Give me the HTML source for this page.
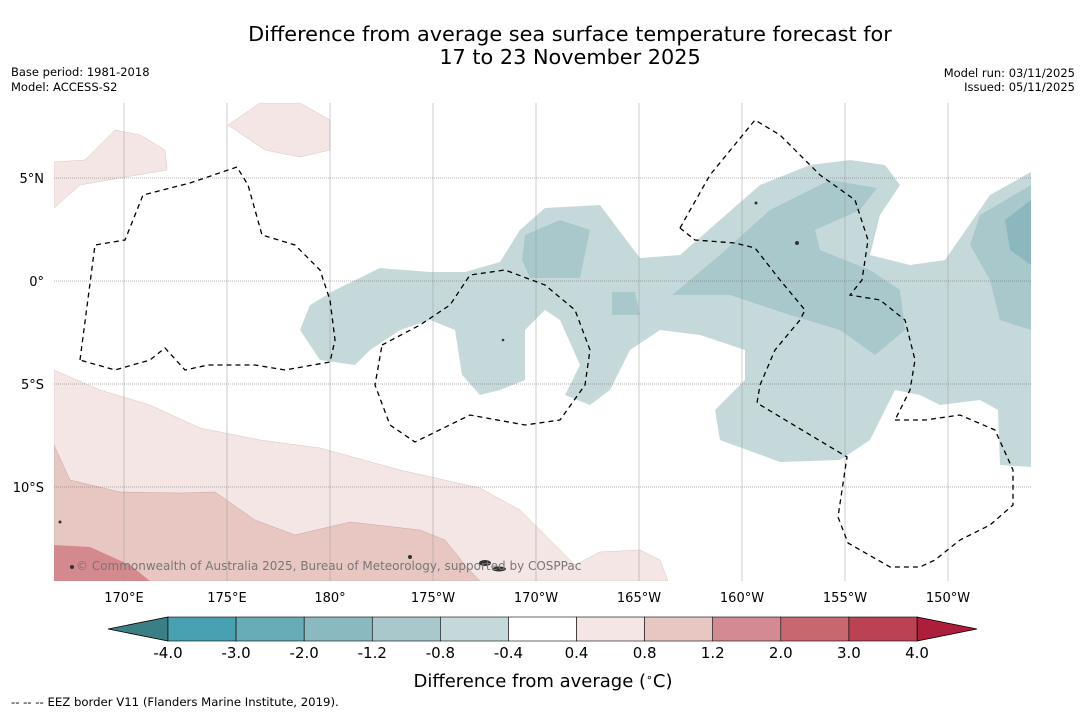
<!DOCTYPE html>
<html><head><meta charset="utf-8"><style>
body{margin:0;background:#fff;font-family:"DejaVu Sans","Liberation Sans",sans-serif;}
svg text{font-family:"DejaVu Sans","Liberation Sans",sans-serif;}
</style></head><body>
<svg id="chart" width="1085" height="713" viewBox="0 0 1085 713" xmlns="http://www.w3.org/2000/svg">
<rect width="1085" height="713" fill="#fff"/>
<text x="570" y="41" font-size="20.8" text-anchor="middle" fill="#000">Difference from average sea surface temperature forecast for</text>
<text x="570" y="64" font-size="20.8" text-anchor="middle" fill="#000">17 to 23 November 2025</text>
<text x="11" y="76" font-size="11.5">Base period: 1981-2018</text>
<text x="11" y="91" font-size="11.5">Model: ACCESS-S2</text>
<text x="1075" y="77" font-size="11.5" text-anchor="end">Model run: 03/11/2025</text>
<text x="1075" y="91" font-size="11.5" text-anchor="end">Issued: 05/11/2025</text>

<g>
<clipPath id="mc"><rect x="54" y="103" width="977" height="478"/></clipPath>
<g clip-path="url(#mc)">
<g fill="#f4e6e4" stroke="#d9c4c2" stroke-width="0.5">
<path d="M228,125 L260,103 L300,103 L330,120 L330,150 L300,157 L265,150 Z"/>
<path d="M54,162 L85,160 L115,130 L140,135 L165,150 L167,170 L120,178 L80,185 L54,208 Z"/>
<path d="M54,370 L100,390 L150,405 L200,428 L260,440 L320,448 L400,470 L480,488 L520,510 L550,540 L575,565 L600,552 L640,550 L660,560 L668,581 L54,581 Z"/>
</g>
<path fill="#e8c7c3" stroke="#c9a6a2" stroke-width="0.5" d="M54,445 L70,480 L120,492 L180,493 L215,492 L255,520 L295,535 L350,522 L420,530 L445,540 L465,565 L480,581 L54,581 Z"/>
<path fill="#d4898f" d="M54,545 L90,547 L130,565 L150,581 L54,581 Z"/>
<path fill="#c5d9db" d="M300,330 L310,305 L335,290 L380,268 L430,272 L465,272 L500,262 L520,230 L545,208 L600,205 L615,225 L640,258 L680,255 L720,220 L760,185 L810,165 L850,160 L885,165 L900,185 L880,215 L870,255 L910,265 L945,260 L990,195 L1031,172 L1031,467 L1000,465 L998,410 L980,400 L940,405 L920,395 L895,390 L870,440 L840,460 L780,462 L720,440 L715,410 L745,380 L745,350 L700,335 L660,330 L630,350 L610,390 L590,405 L565,395 L580,365 L560,320 L545,310 L525,330 L525,380 L500,390 L480,395 L462,375 L455,330 L430,320 L400,330 L370,350 L355,365 L320,360 Z"/>
<g fill="#a9c8cb">
<path d="M525,235 L560,220 L590,230 L580,278 L530,278 L522,260 Z"/>
<path d="M612,292 L635,292 L640,315 L612,315 Z"/>
<path d="M672,295 L720,255 L770,210 L830,180 L877,188 L860,210 L815,230 L820,250 L870,270 L900,290 L905,330 L875,355 L840,330 L790,315 L730,295 Z"/>
<path d="M1031,185 L980,215 L970,245 L990,280 L1000,320 L1031,330 Z"/>
</g>
<path fill="#8bb8be" d="M1031,200 L1005,220 L1010,250 L1031,265 Z"/>
<g stroke="#999" stroke-width="0.5">
<g id="vgrid"></g>
<g id="hgrid" stroke-dasharray="1,1" stroke="#666"></g>
</g>
<g fill="none" stroke="#000" stroke-width="1.3" stroke-dasharray="5,4">
<path d="M80,360 L95,245 L125,240 L143,195 L190,183 L237,167 L248,185 L262,235 L295,245 L320,270 L330,300 L335,340 L330,362 L285,370 L255,365 L208,365 L185,370 L165,348 L150,360 L115,370 Z"/>
<path d="M382,345 L420,325 L450,305 L470,275 L505,270 L545,285 L575,310 L590,350 L585,385 L560,420 L525,425 L470,415 L415,442 L390,425 L375,385 Z"/>
<path d="M680,228 L710,175 L755,120 L780,135 L820,175 L855,200 L868,240 L862,280 L850,295 L880,300 L905,320 L915,360 L910,390 L895,420"/>
<path d="M895,420 L925,420 L960,415 L995,430 L1013,470 L1013,505 L990,525 L960,540 L935,560 L920,567 L890,567 L848,543 L838,517 L847,457 L757,403 L760,385 L775,350 L800,320 L805,310 L780,280 L755,248 L735,243 L695,240 L680,228"/>
</g>
<g fill="#333">
<ellipse cx="485" cy="563" rx="6" ry="3"/><ellipse cx="499" cy="569" rx="7" ry="2.5"/>
<circle cx="72" cy="567" r="2"/><circle cx="60" cy="522" r="1.5"/><circle cx="797" cy="243" r="2"/>
<circle cx="756" cy="203" r="1.5"/><circle cx="410" cy="557" r="2"/><circle cx="503" cy="340" r="1.3"/>
</g>
</g>
</g>
<text x="76" y="570" font-size="12" fill="#777">© Commonwealth of Australia 2025, Bureau of Meteorology, supported by COSPPac</text>
<g id="lonlabels" font-size="13" text-anchor="middle"></g>
<g id="latlabels" font-size="13" text-anchor="end"></g>
<g id="cbar"></g>
<text x="543" y="687" font-size="18" text-anchor="middle">Difference from average (<tspan font-size="11" dy="-6">∘</tspan><tspan dy="6">C)</tspan></text>
<text x="11" y="706" font-size="11.7">--  --  -- EEZ border V11 (Flanders Marine Institute, 2019).</text>
</svg>
<script>
const lonTicks=["170°E","175°E","180°","175°W","170°W","165°W","160°W","155°W","150°W"];
const lonValues=[170,175,180,185,190,195,200,205,210];
const latTicks=["5°N","0°","5°S","10°S"];
const latValues=[5,0,-5,-10];
const cbarBounds=[-4.0,-3.0,-2.0,-1.2,-0.8,-0.4,0.4,0.8,1.2,2.0,3.0,4.0];
const cbarLabels=["-4.0","-3.0","-2.0","-1.2","-0.8","-0.4","0.4","0.8","1.2","2.0","3.0","4.0"];
const cbarColors=["#47a1b1","#68acb8","#8bb9c0","#a9c8cb","#c5d9db","#ffffff","#f4e6e4","#e8c7c3","#d48a93","#c9676f","#bb4252"];
const NS="http://www.w3.org/2000/svg";
const xLon=l=>124+(l-170)*20.6;
const yLat=l=>281-l*20.6;
function mk(t,a,p){const e=document.createElementNS(NS,t);for(const k in a)e.setAttribute(k,a[k]);p.appendChild(e);return e;}
const vg=document.getElementById('vgrid'),hg=document.getElementById('hgrid');
const ll=document.getElementById('lonlabels'),la=document.getElementById('latlabels');
lonValues.forEach((v,i)=>{
 const ln=mk('line',{x1:xLon(v),x2:xLon(v),y1:103,y2:581},vg);
 
 
 const t=mk('text',{x:xLon(v),y:602},ll);t.textContent=lonTicks[i];
 
 
});
latValues.forEach((v,i)=>{
 const ln=mk('line',{x1:54,x2:1031,y1:yLat(v),y2:yLat(v)},hg);
 
 
 const t=mk('text',{x:44,y:yLat(v)+5},la);t.textContent=latTicks[i];
 
 
});
const cb=document.getElementById('cbar');
const x0=168,x1=917,n=cbarBounds.length-1,w=(x1-x0)/n,cy0=617,cy1=641;
const lt=mk('polygon',{points:`108,629 ${x0},${cy0} ${x0},${cy1}`,fill:'#3b7f86',stroke:'#000','stroke-width':0.8},cb);


const rt=mk('polygon',{points:`977,629 ${x1},${cy0} ${x1},${cy1}`,fill:'#ad1d3c',stroke:'#000','stroke-width':0.8},cb);


cbarColors.forEach((c,i)=>{
 const r=mk('rect',{x:x0+i*w,y:cy0,width:w,height:cy1-cy0,fill:c,stroke:'#000','stroke-width':0.6},cb);
 
 
});
cbarLabels.forEach((s,i)=>{
 const t=mk('text',{x:x0+i*w,y:658,'font-size':15,'text-anchor':'middle'},cb);t.textContent=s;
 
 
});
</script>
</body></html>
